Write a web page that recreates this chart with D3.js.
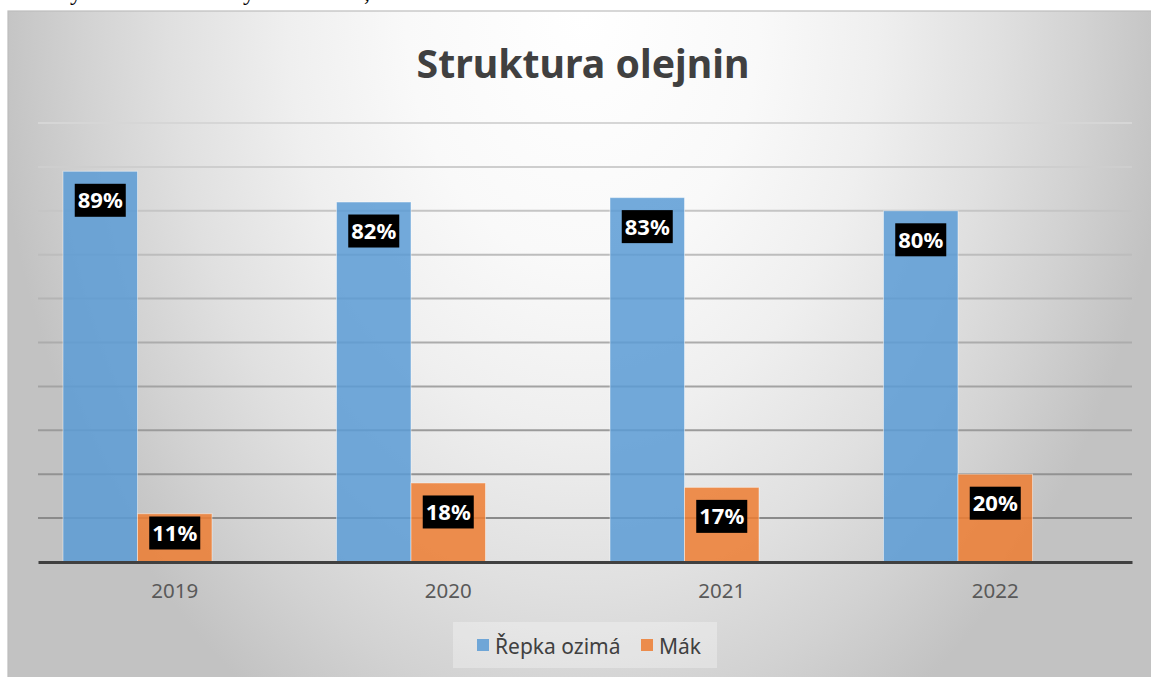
<!DOCTYPE html>
<html>
<head>
<meta charset="utf-8">
<script src="https://cdn.jsdelivr.net/npm/d3@7"></script>
<style>
  body { margin: 0; background: #fff; }
  svg { display: block; }
  text { font-family: "Noto Sans", "Open Sans", sans-serif; }
</style>
</head>
<body>
<div id="chart"></div>
<script>
///////////// data //////////////
var categories = ['2019', '2020', '2021', '2022'];
var series_names = ['Řepka ozimá', 'Mák'];
var repka_values = [0.89, 0.82, 0.83, 0.80];
var mak_values = [0.11, 0.18, 0.17, 0.20];
var y_ticks = [0.1, 0.2, 0.3, 0.4, 0.5, 0.6, 0.7, 0.8, 0.9, 1.0];
var chart_title = 'Struktura olejnin';

var series_colors = ['#5b9bd5', '#ed7d31'];

///////////// layout //////////////
const svg_width = 1151
const svg_height = 677
const frame_left = 8
const frame_top = 11
const plot_left = 38
const plot_right = 1132
const plot_top = 123
const plot_bottom = 562
const group_inset = 25
const bar_width = 74.5

var svg = d3.select('#chart').append('svg')
  .attr('width', svg_width)
  .attr('height', svg_height);

// background gradient (lighter at the top centre)
var defs = svg.append('defs');
var grad = defs.append('radialGradient')
  .attr('id', 'bg_grad')
  .attr('gradientUnits', 'userSpaceOnUse')
  .attr('cx', 0).attr('cy', 0).attr('r', 1)
  .attr('gradientTransform', 'translate(583,14) scale(590,820)');
[[0, '#ffffff'], [0.3, '#f9f9f9'], [0.5, '#efefef'], [0.7, '#e0e0e0'], [0.85, '#d2d2d2'], [1, '#c2c2c2']]
  .forEach(function(s){
    grad.append('stop').attr('offset', s[0]).attr('stop-color', s[1]);
  });

// cut-off line of document text above the chart (cut in the source too)
svg.selectAll('text.doc')
  .data([[70, 'y'], [243, 'y'], [364, ',']])
  .enter().append('text')
  .attr('class', 'doc')
  .attr('x', function(d){ return d[0]; })
  .attr('y', 0)
  .style('font-family', '"Liberation Serif", serif')
  .style('font-size', '24px')
  .attr('fill', '#000')
  .text(function(d){ return d[1]; });

svg.append('rect')
  .attr('x', frame_left)
  .attr('y', frame_top)
  .attr('width', svg_width - frame_left + 2)
  .attr('height', svg_height - frame_top + 2)
  .attr('fill', 'url(#bg_grad)')
  .attr('stroke', '#bdbdbd')
  .attr('stroke-width', 1.2);

// scales
var x0 = d3.scaleBand()
  .domain(categories)
  .range([plot_left, plot_right]);

var x1 = d3.scaleBand()
  .domain(series_names)
  .range([group_inset, group_inset + bar_width * series_names.length]);

var y = d3.scaleLinear()
  .domain([0, 1])
  .range([plot_bottom, plot_top]);

var grid_color = d3.scaleLinear()
  .domain([0.1, 1.0])
  .range(['#8a8a8a', '#d6d6d6']);

// gridlines
svg.append('g')
  .attr('class', 'grid')
  .selectAll('line')
  .data(y_ticks)
  .enter().append('line')
  .attr('x1', plot_left)
  .attr('x2', plot_right)
  .attr('y1', function(d){ return y(d); })
  .attr('y2', function(d){ return y(d); })
  .attr('stroke', function(d){ return grid_color(d); })
  .attr('stroke-width', 2);

// bars
var table = [];
categories.forEach(function(c, i){
  table.push({cat: c, series: series_names[0], value: repka_values[i], color: series_colors[0]});
  table.push({cat: c, series: series_names[1], value: mak_values[i], color: series_colors[1]});
});

var bars = svg.append('g').attr('class', 'bars');
bars.selectAll('rect')
  .data(table)
  .enter().append('rect')
  .attr('x', function(d){ return x0(d.cat) + x1(d.series); })
  .attr('y', function(d){ return y(d.value); })
  .attr('width', x1.bandwidth())
  .attr('height', function(d){ return y(0) - y(d.value); })
  .attr('fill', function(d){ return d.color; })
  .attr('fill-opacity', 0.85)
  .attr('stroke', 'rgba(255,255,255,0.45)')
  .attr('stroke-width', 1);

// x axis
var x_axis = svg.append('g')
  .attr('class', 'x axis')
  .attr('transform', `translate(0,${plot_bottom})`)
  .call(d3.axisBottom(x0).tickSize(0).tickPadding(21));
x_axis.select('.domain')
  .attr('stroke', '#404040')
  .attr('stroke-width', 3);
x_axis.selectAll('text')
  .style('font-family', '"Noto Sans", sans-serif')
  .style('font-size', '20.5px')
  .attr('fill', '#595959');

// data labels (black boxes, white bold text)
var labels = svg.append('g').attr('class', 'labels');
var lab = labels.selectAll('g')
  .data(table)
  .enter().append('g')
  .attr('transform', function(d){
    var cx = x0(d.cat) + x1(d.series) + x1.bandwidth() / 2;
    var cy = Math.min(y(d.value) + 29, y(0) - 29);
    return `translate(${cx},${cy})`;
  });
lab.append('rect').attr('fill', '#000');
lab.append('text')
  .attr('text-anchor', 'middle')
  .attr('dy', '0.36em')
  .style('font-size', '22px')
  .style('font-weight', 'bold')
  .attr('fill', '#fff')
  .text(function(d){ return Math.round(d.value * 100) + '%'; });
lab.each(function(){
  var g = d3.select(this);
  var w = g.select('text').node().getComputedTextLength() + 6;
  g.select('rect')
    .attr('x', -w / 2).attr('y', -16.5)
    .attr('width', w).attr('height', 33);
});

// title
var title = svg.append('text')
  .attr('x', 583)
  .attr('y', 78)
  .attr('text-anchor', 'middle')
  .style('font-size', '40px')
  .style('font-weight', 'bold')
  .attr('fill', '#404040')
  .text(chart_title);
// fit title to the width seen in the picture
var tw = title.node().getComputedTextLength();
title.style('font-size', (40 * 333 / tw) + 'px');

// legend
var legend = svg.append('g').attr('class', 'legend');
legend.append('rect')
  .attr('x', 453).attr('y', 622)
  .attr('width', 264).attr('height', 46)
  .attr('fill', 'rgba(255,255,255,0.3)');
var legend_x = [477, 641];
var li = legend.selectAll('g')
  .data(series_names)
  .enter().append('g')
  .attr('transform', function(d, i){ return `translate(${legend_x[i]},639)`; });
li.append('rect')
  .attr('width', 12).attr('height', 12)
  .attr('fill', function(d, i){ return series_colors[i]; })
  .attr('fill-opacity', 0.85);
li.append('text')
  .attr('x', 18)
  .attr('y', 15)
  .style('font-size', '21px')
  .attr('fill', '#404040')
  .text(function(d){ return d; });
</script>
</body>
</html>
